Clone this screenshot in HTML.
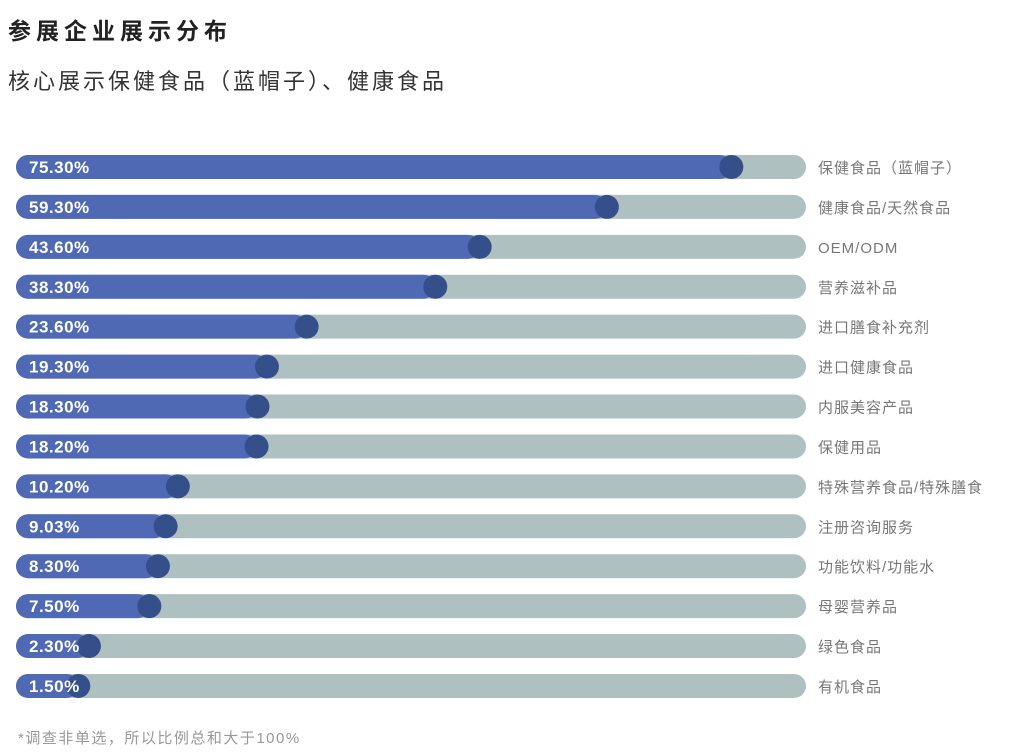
<!DOCTYPE html>
<html><head><meta charset="utf-8"><style>
body{margin:0;width:1021px;height:755px;background:#fff;font-family:"Liberation Sans","Noto Sans CJK SC",sans-serif;overflow:hidden}
#title{position:absolute;left:8px;top:12px;font-size:23px;font-weight:bold;color:#222;letter-spacing:5px}
#sub{position:absolute;left:8px;top:64px;font-size:22px;color:#333;letter-spacing:3px}
#note{position:absolute;left:18px;top:727px;font-size:15px;color:#999;letter-spacing:1.5px}
svg{position:absolute;left:0;top:0}
</style></head><body>
<div id="title">参展企业展示分布</div>
<div id="sub">核心展示保健食品（蓝帽子）、健康食品</div>
<svg id="chart" width="1021" height="755"></svg>
<div id="note">*调查非单选，所以比例总和大于100%</div>
<script>
const categories=["保健食品（蓝帽子）","健康食品/天然食品","OEM/ODM","营养滋补品","进口膳食补充剂","进口健康食品","内服美容产品","保健用品","特殊营养食品/特殊膳食","注册咨询服务","功能饮料/功能水","母婴营养品","绿色食品","有机食品"];
const values=[75.3,59.3,43.6,38.3,23.6,19.3,18.3,18.2,10.2,9.03,8.3,7.5,2.3,1.5];
const valueLabels=["75.30%","59.30%","43.60%","38.30%","23.60%","19.30%","18.30%","18.20%","10.20%","9.03%","8.30%","7.50%","2.30%","1.50%"];
const NS="http://www.w3.org/2000/svg";
const svg=document.getElementById('chart');
const x=v=>54+17.2*Math.pow(v,0.85);
const y=i=>167+i*39.92;
const L=16,R=806,H=24;
function mk(t,a){const e=document.createElementNS(NS,t);for(const k in a)e.setAttribute(k,a[k]);svg.appendChild(e);return e;}
categories.forEach((c,i)=>{
  const cy=y(i),cx=x(values[i]);
  const tr=mk('rect',{x:L,y:cy-H/2,width:R-L,height:H,rx:12,fill:'#afc0c0'});
  
  
  const f=mk('rect',{x:L,y:cy-H/2,width:cx-L,height:H,rx:12,fill:'#4f69b4'});
  
  
  const k=mk('circle',{cx:cx,cy:cy,r:12,fill:'#344f8a'});
  
  
  const t=mk('text',{x:29,y:cy+6,fill:'#fff','font-size':17,'font-weight':'bold','letter-spacing':0.5});
  t.textContent=valueLabels[i];
  
  
  const l=mk('text',{x:818,y:cy+6,fill:'#777','font-size':15,'letter-spacing':1});
  l.textContent=c;
  
  
});
</script>
</body></html>
